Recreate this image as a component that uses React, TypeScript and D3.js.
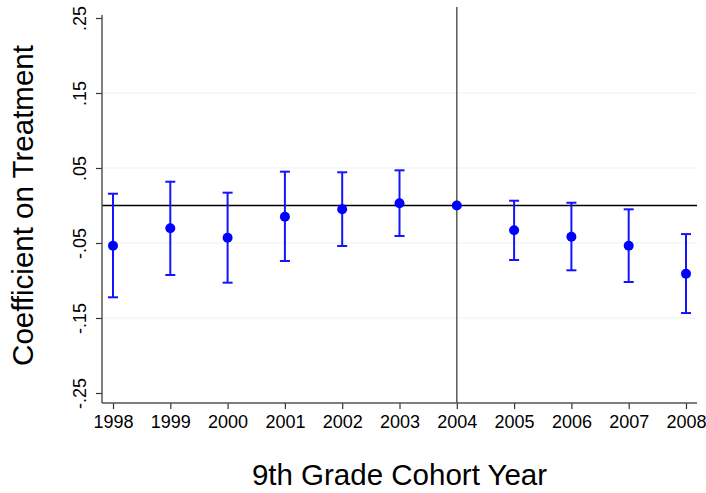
import React, { useEffect, useRef } from "react";
import * as d3 from "d3";

// cohort years and estimated coefficients with 95% CI
const years = [1998, 1999, 2000, 2001, 2002, 2003, 2004, 2005, 2006, 2007, 2008];
const coef = [-0.0536, -0.0304, -0.0429, -0.0149, -0.0051, 0.0029, 0, -0.0331, -0.0416, -0.0536, -0.091];
const ciHigh = [0.0157, 0.0317, 0.0171, 0.0451, 0.0443, 0.0469, 0, 0.0064, 0.0037, -0.0051, -0.0381];
const ciLow = [-0.1224, -0.0927, -0.1029, -0.074, -0.054, -0.0407, 0, -0.0727, -0.0864, -0.102, -0.1434];
const yTicks = [0.25, 0.15, 0.05, -0.05, -0.15, -0.25];
const yTickLabels = [".25", ".15", ".05", "-.05", "-.15", "-.25"];
const eventYear = 2004;

const W = 706;
const H = 493;
const font = "Arial, 'Liberation Sans', sans-serif";

const App = () => {
  const svgRef = useRef<SVGSVGElement>(null);

  useEffect(() => {
    const svg = d3.select(svgRef.current);
    svg.selectAll("*").remove();

    const left = 102;
    const right = 697;
    const top = 7;
    const bottom = 403;

    const x = d3.scaleLinear().domain([1998, 2008]).range([113, 686]);
    const y = d3.scaleLinear().domain([-0.25, 0.25]).range([393, 18]);

    // gridlines (interior ticks only)
    svg
      .selectAll(".grid")
      .data(yTicks.slice(1, -1))
      .join("line")
      .attr("x1", left)
      .attr("x2", right)
      .attr("y1", (d) => y(d))
      .attr("y2", (d) => y(d))
      .attr("stroke", "#eaf2f3")
      .attr("stroke-width", 1.2);

    // zero line
    svg
      .append("line")
      .attr("x1", left)
      .attr("x2", right)
      .attr("y1", y(0))
      .attr("y2", y(0))
      .attr("stroke", "#000")
      .attr("stroke-width", 1.6);

    // event year line
    svg
      .append("line")
      .attr("x1", x(eventYear))
      .attr("x2", x(eventYear))
      .attr("y1", top)
      .attr("y2", bottom)
      .attr("stroke", "#595959")
      .attr("stroke-width", 1.5);

    // y axis
    const yAxis = d3
      .axisLeft(y)
      .tickValues(yTicks)
      .tickSize(6)
      .tickFormat((d, i) => yTickLabels[i]);
    const gy = svg.append("g").attr("transform", `translate(${left},0)`).call(yAxis);
    gy.select(".domain").remove();
    gy.selectAll(".tick line").attr("stroke", "#333").attr("stroke-width", 1.2);
    gy.selectAll(".tick text")
      .attr("x", 0)
      .attr("dy", 0)
      .attr("text-anchor", "middle")
      .attr("transform", "translate(-16,0) rotate(-90)")
      .style("font-family", font)
      .style("font-size", "18px")
      .style("fill", "#000");
    svg
      .append("line")
      .attr("x1", left)
      .attr("x2", left)
      .attr("y1", 15)
      .attr("y2", bottom)
      .attr("stroke", "#555")
      .attr("stroke-width", 1.5);

    // x axis
    const xAxis = d3
      .axisBottom(x)
      .tickValues(years)
      .tickSize(6)
      .tickFormat(d3.format("d"));
    const gx = svg.append("g").attr("transform", `translate(0,${bottom})`).call(xAxis);
    gx.select(".domain").remove();
    gx.selectAll(".tick line").attr("stroke", "#333").attr("stroke-width", 1.2);
    gx.selectAll(".tick text")
      .attr("y", 12)
      .attr("dy", "0.71em")
      .style("font-family", font)
      .style("font-size", "18px")
      .style("fill", "#000");
    svg
      .append("line")
      .attr("x1", left)
      .attr("x2", right)
      .attr("y1", bottom)
      .attr("y2", bottom)
      .attr("stroke", "#555")
      .attr("stroke-width", 1.5);

    // error bars
    const capW = 5;
    const g = svg.append("g").attr("stroke", "#1414ff").attr("stroke-width", 2);
    years.forEach((yr, i) => {
      if (ciHigh[i] === ciLow[i]) return;
      g.append("line")
        .attr("x1", x(yr)).attr("x2", x(yr))
        .attr("y1", y(ciHigh[i])).attr("y2", y(ciLow[i]));
      g.append("line")
        .attr("x1", x(yr) - capW).attr("x2", x(yr) + capW)
        .attr("y1", y(ciHigh[i])).attr("y2", y(ciHigh[i]));
      g.append("line")
        .attr("x1", x(yr) - capW).attr("x2", x(yr) + capW)
        .attr("y1", y(ciLow[i])).attr("y2", y(ciLow[i]));
    });

    // points
    svg
      .selectAll(".pt")
      .data(years)
      .join("circle")
      .attr("cx", (d) => x(d))
      .attr("cy", (d, i) => y(coef[i]))
      .attr("r", 5)
      .attr("fill", "#0000ff");

    // axis titles
    svg
      .append("text")
      .attr("x", (left + right) / 2)
      .attr("y", 485)
      .attr("text-anchor", "middle")
      .style("font-family", font)
      .style("font-size", "29.5px")
      .text("9th Grade Cohort Year");

    svg
      .append("text")
      .attr("transform", `translate(33,${y(0)}) rotate(-90)`)
      .attr("text-anchor", "middle")
      .style("font-family", font)
      .style("font-size", "29.5px")
      .text("Coefficient on Treatment");
  }, []);

  return (
    <svg
      ref={svgRef}
      width={W}
      height={H}
      style={{ position: "absolute", left: 0, top: 0, background: "#fff" }}
    ></svg>
  );
};

export default App;
